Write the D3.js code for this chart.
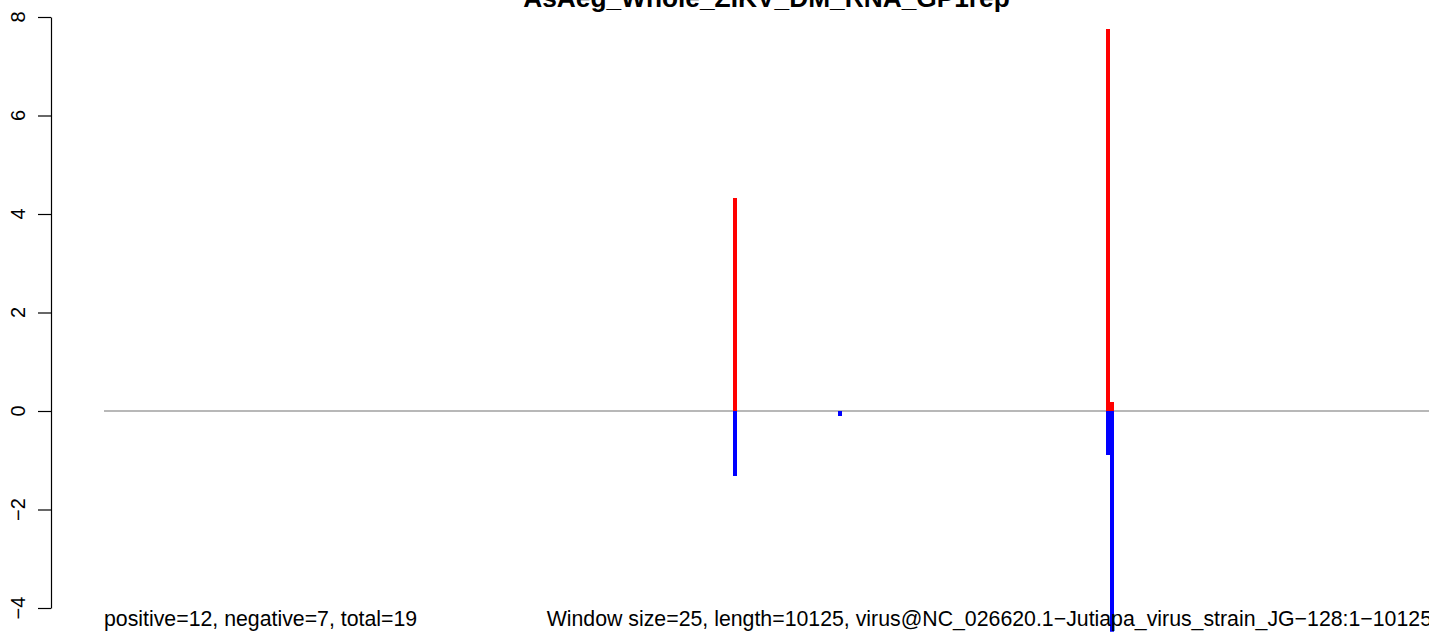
<!DOCTYPE html>
<html><head><meta charset="utf-8">
<script src="https://cdn.jsdelivr.net/npm/d3@7"></script>
<style>body{margin:0;background:#fff}svg{display:block;font-family:"Liberation Sans",Arial,sans-serif}</style>
</head><body>
<svg id="c" width="1429" height="632"></svg>
<script>
const titleText = "AsAeg_Whole_ZIKV_DM_RNA_GP1rep";
const leftNote = "positive=12, negative=7, total=19";
const rightNote = "Window size=25, length=10125, virus@NC_026620.1\u2212Jutiapa_virus_strain_JG\u2212128:1\u221210125";
const seqLength = 10125;
const positions = [4825, 5625, 7675, 7700];
const positiveVals = [4.32, 0, 7.75, 0.18];
const negativeVals = [-1.31, -0.1, -0.89, -5.0];
const yTicks = [-4, -2, 0, 2, 4, 6, 8];

const svg = d3.select("#c");
// R-style 4% padding around the data range
const plotL = 51, plotR = 1482;
const x = d3.scaleLinear().domain([-0.04*seqLength, seqLength*1.04]).range([plotL, plotR]);
const y = d3.scaleLinear().domain([-4, 8]).range([608, 17]);
const plotTop = y(8.48), plotBottom = y(-4.48);

svg.append("defs").append("clipPath").attr("id","pc").append("rect")
  .attr("x", plotL).attr("y", plotTop).attr("width", plotR-plotL).attr("height", plotBottom-plotTop);

const g = svg.append("g").attr("clip-path","url(#pc)");
g.append("line").attr("x1", x(0)).attr("x2", x(seqLength)).attr("y1", y(0)).attr("y2", y(0))
  .attr("stroke","#a0a0a0").attr("stroke-width",1.3);

const bw = 4;
positions.forEach((p,i)=>{
  const v = positiveVals[i];
  if (v !== 0) g.append("rect").attr("x", Math.round(x(p)-bw/2)).attr("width", bw)
    .attr("y", y(v)).attr("height", y(0)-y(v)).attr("fill","#ff0000").attr("shape-rendering","crispEdges");
});
positions.forEach((p,i)=>{
  const v = negativeVals[i];
  if (v !== 0) g.append("rect").attr("x", Math.round(x(p)-bw/2)).attr("width", bw)
    .attr("y", y(0)).attr("height", y(v)-y(0)).attr("fill","#0000ff").attr("shape-rendering","crispEdges");
});

const ax = svg.append("g").attr("transform", `translate(${plotL},0)`)
  .call(d3.axisLeft(y).tickValues(yTicks).tickSizeInner(13).tickSizeOuter(0).tickFormat(""));
ax.select(".domain").attr("stroke","#000").attr("stroke-width",1.2);
ax.selectAll(".tick line").attr("stroke","#000").attr("stroke-width",1.2);
ax.selectAll(".tick text").remove();
svg.append("g").selectAll("text").data(yTicks).join("text")
  .attr("transform", d=>`translate(25,${y(d)}) rotate(-90)`)
  .attr("text-anchor","middle").style("font-size","20px").attr("fill","#000")
  .text(d=>d<0?"\u2212"+Math.abs(d):String(d));

svg.append("text").attr("x", (plotL+plotR)/2).attr("y", 7).attr("text-anchor","middle")
  .attr("font-weight","bold").style("font-size","26.3px").text(titleText);

svg.append("text").attr("x", x(0)).attr("y", 626).style("font-size","21.3px").text(leftNote);
svg.append("text").attr("x", x(seqLength)+3).attr("y", 626).attr("text-anchor","end").style("font-size","21.3px").text(rightNote);
</script>
</body></html>
